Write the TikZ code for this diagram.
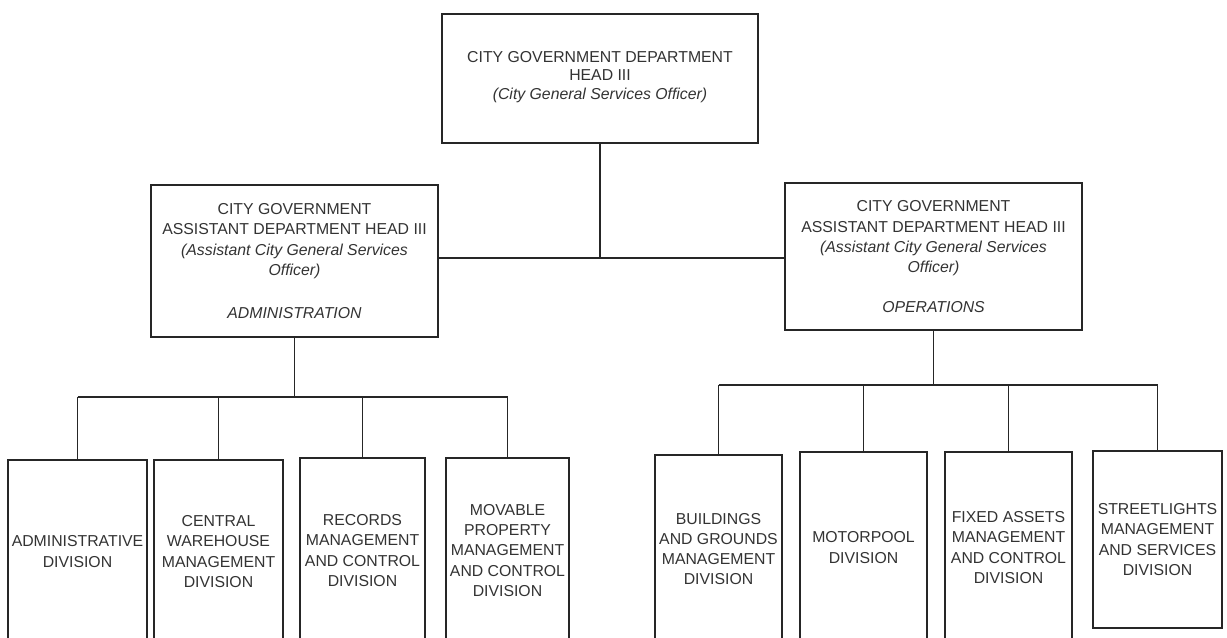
\documentclass[tikz,border=0pt]{standalone}
\usepackage{fontspec}
\setmainfont{Liberation Sans}
\usepackage{tikz}
\usetikzlibrary{calc,positioning}
\tikzset{
  box/.style={draw=black!85,line width=0.9pt,align=center,inner sep=0pt,
    text=black!80,font=\fontsize{9}{11.5}\selectfont},
  divbox/.style={box,minimum width=#1},
  link/.style={draw=black!85,line width=0.9pt}
}

\begin{document}
\begin{tikzpicture}[x=0.02cm,y=-0.02cm]
  \clip (0,0) rectangle (1227,637);
  \fill[white] (0,0) rectangle (1227,637);
  % head
  \node[box,minimum width=6.32cm,minimum height=2.58cm,
        font=\fontsize{9}{10.5}\selectfont] (head) at (600,78.5)
    {CITY GOVERNMENT DEPARTMENT\\HEAD III\\\textit{(City General Services Officer)}\\[-7pt]};
  % assistant heads
  \node[box,minimum width=5.74cm,minimum height=3.04cm] (admhead) at (294.5,261)
    {CITY GOVERNMENT\\ASSISTANT DEPARTMENT HEAD III\\
     \textit{(Assistant City General Services}\\\textit{Officer)}\\[13pt]
     \textit{ADMINISTRATION}};
  \node[box,minimum width=5.94cm,minimum height=2.94cm] (opshead) at (933.5,256.5)
    {CITY GOVERNMENT\\ASSISTANT DEPARTMENT HEAD III\\
     \textit{(Assistant City General Services}\\\textit{Officer)}\\[11pt]
     \textit{OPERATIONS}};
  % divisions
  \node[divbox=2.78cm,minimum height=3.66cm] (admdiv) at (77.5,551.5)
    {ADMINISTRATIVE\\DIVISION};
  \node[divbox=2.58cm,minimum height=3.66cm] (cwdiv) at (218.5,551.5)
    {CENTRAL\\WAREHOUSE\\MANAGEMENT\\DIVISION};
  \node[divbox=2.50cm,minimum height=3.70cm] (recdiv) at (362.5,550.5)
    {RECORDS\\MANAGEMENT\\AND CONTROL\\DIVISION};
  \node[divbox=2.46cm,minimum height=3.70cm] (movdiv) at (507.5,550.5)
    {MOVABLE\\PROPERTY\\MANAGEMENT\\AND CONTROL\\DIVISION};
  \node[divbox=2.54cm,minimum height=3.76cm] (bgdiv) at (718.5,549)
    {BUILDINGS\\AND GROUNDS\\MANAGEMENT\\DIVISION};
  \node[divbox=2.54cm,minimum height=3.82cm] (mpdiv) at (863.5,547.5)
    {MOTORPOOL\\DIVISION};
  \node[divbox=2.54cm,minimum height=3.82cm] (fadiv) at (1008.5,547.5)
    {FIXED ASSETS\\MANAGEMENT\\AND CONTROL\\DIVISION};
  \node[divbox=2.58cm,minimum height=3.54cm] (sldiv) at (1157.5,539.5)
    {STREETLIGHTS\\MANAGEMENT\\AND SERVICES\\DIVISION};
  % connectors
  \coordinate (jtop) at (600,258);
  \coordinate (admbus) at (294.5,397);
  \coordinate (opsbus) at (933.5,385);
  \draw[link] (head.south) -- (head.south |- jtop);
  \draw[link] (admhead.east |- jtop) -- (opshead.west |- jtop);
  \draw[link] (admhead.south) -- (admhead.south |- admbus);
  \draw[link] (opshead.south) -- (opshead.south |- opsbus);
  \draw[link] (admdiv.north |- admbus) -- (movdiv.north |- admbus);
  \draw[link] (bgdiv.north |- opsbus) -- (sldiv.north |- opsbus);
  \foreach \d in {admdiv,cwdiv,recdiv,movdiv}
    \draw[link] (\d.north |- admbus) -- (\d.north);
  \foreach \d in {bgdiv,mpdiv,fadiv,sldiv}
    \draw[link] (\d.north |- opsbus) -- (\d.north);
\end{tikzpicture}
\end{document}
